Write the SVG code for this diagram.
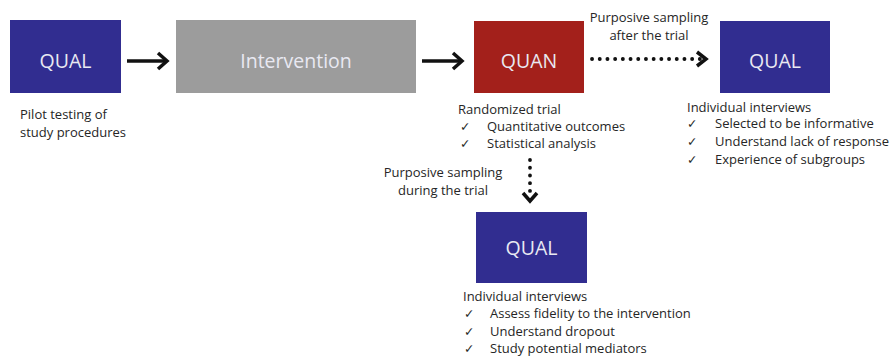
<svg xmlns="http://www.w3.org/2000/svg" width="893" height="357" viewBox="0 0 893 357">
  <style>
    .qual { fill: #312d90; }
    .quan { fill: #a3201b; }
    .inter { fill: #9c9c9c; }
    .box-label { font-family: "Open Sans", "Noto Sans", sans-serif; font-size: 19.5px; fill: #e9e9f2; text-anchor: middle; }
    .note { font-family: "Open Sans", "Noto Sans", sans-serif; font-size: 13px; fill: #262626; }
    .tick { font-family: "DejaVu Sans", sans-serif; font-size: 12.5px; fill: #262626; }
    .solid { fill: none; stroke: #111111; stroke-width: 3.5; }
    .dots { fill: none; stroke: #111111; stroke-width: 3.8; stroke-linecap: round; stroke-dasharray: 0.1 7.6; }
    .head { fill: none; stroke: #111111; stroke-width: 3.5; stroke-linejoin: miter; }
  </style>
  <rect width="893" height="357" fill="#ffffff"/>

  <!-- Pilot qualitative phase -->
  <g id="qual-pilot">
    <rect class="qual" x="10" y="20" width="111" height="73"/>
    <text class="box-label" x="65.5" y="67.5">QUAL</text>
    <text class="note" x="20" y="119">Pilot testing of</text>
    <text class="note" x="20" y="137">study procedures</text>
  </g>

  <!-- Intervention -->
  <g id="intervention">
    <rect class="inter" x="176" y="20" width="240" height="73"/>
    <text class="box-label" x="296" y="67.5">Intervention</text>
  </g>

  <!-- Quantitative trial -->
  <g id="quan-trial">
    <rect class="quan" x="474" y="21" width="110" height="72"/>
    <text class="box-label" x="529" y="67.5">QUAN</text>
    <text class="note" x="458" y="114">Randomized trial</text>
    <text class="tick" x="460" y="131">✓</text>
    <text class="note" x="487" y="131">Quantitative outcomes</text>
    <text class="tick" x="460" y="148">✓</text>
    <text class="note" x="487" y="148">Statistical analysis</text>
  </g>

  <!-- Qualitative follow-up after the trial -->
  <g id="qual-after">
    <rect class="qual" x="720" y="21" width="110" height="72"/>
    <text class="box-label" x="775" y="67.5">QUAL</text>
    <text class="note" x="687" y="112">Individual interviews</text>
    <text class="tick" x="687" y="128">✓</text>
    <text class="note" x="715" y="128">Selected to be informative</text>
    <text class="tick" x="687" y="146">✓</text>
    <text class="note" x="715" y="146">Understand lack of response</text>
    <text class="tick" x="687" y="164">✓</text>
    <text class="note" x="715" y="164">Experience of subgroups</text>
  </g>

  <!-- Qualitative study during the trial -->
  <g id="qual-during">
    <rect class="qual" x="476" y="212" width="111" height="71"/>
    <text class="box-label" x="531.5" y="254.5">QUAL</text>
    <text class="note" x="463" y="301">Individual interviews</text>
    <text class="tick" x="464" y="318">✓</text>
    <text class="note" x="490" y="318">Assess fidelity to the intervention</text>
    <text class="tick" x="464" y="336">✓</text>
    <text class="note" x="490" y="336">Understand dropout</text>
    <text class="tick" x="464" y="353">✓</text>
    <text class="note" x="490" y="353">Study potential mediators</text>
  </g>

  <!-- Connectors -->
  <g id="connectors">
    <path class="solid" d="M127,61 H166"/>
    <path class="head" d="M158,53 L167,61 L158,69"/>

    <path class="solid" d="M422,61 H461"/>
    <path class="head" d="M453,53 L462,61 L453,69"/>

    <path class="dots" d="M592,59 H700"/>
    <path class="head" d="M697,52 L706,59 L697,66"/>
    <text class="note" x="649" y="22" text-anchor="middle">Purposive sampling</text>
    <text class="note" x="649" y="40" text-anchor="middle">after the trial</text>

    <path class="dots" d="M530,160 V195"/>
    <path class="head" d="M523,193 L530,201 L537,193"/>
    <text class="note" x="443" y="177" text-anchor="middle">Purposive sampling</text>
    <text class="note" x="443" y="195" text-anchor="middle">during the trial</text>
  </g>
</svg>
